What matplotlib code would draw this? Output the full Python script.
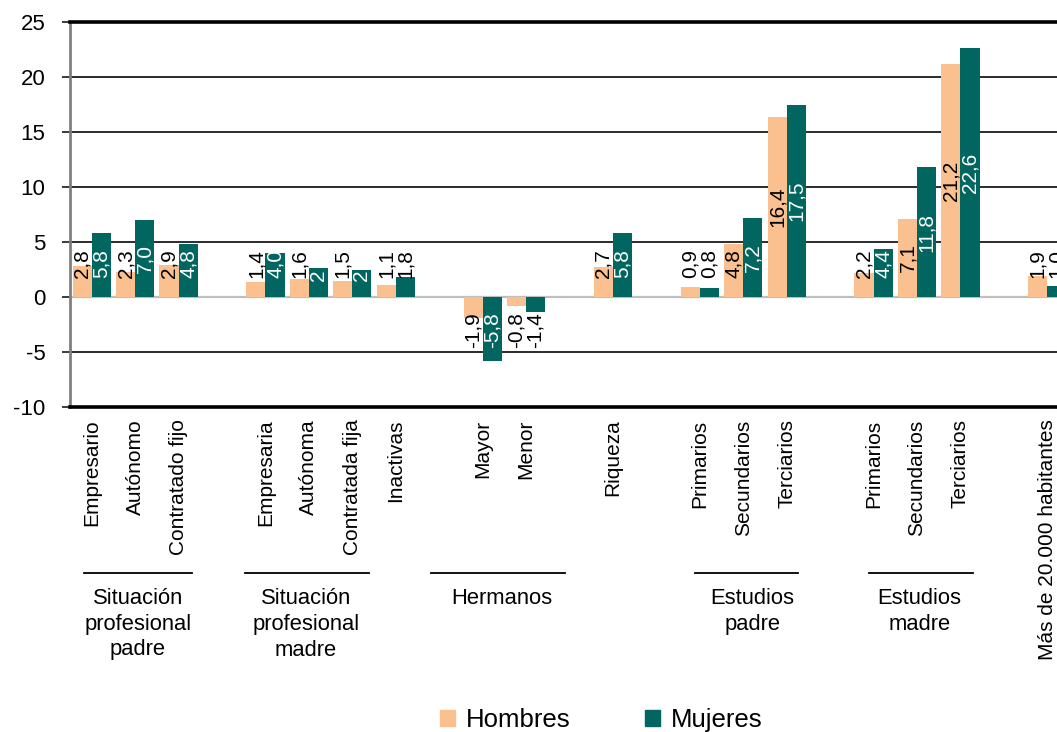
import matplotlib

matplotlib.use("Agg")
import matplotlib.pyplot as plt
from matplotlib.patches import Patch
from matplotlib.transforms import blended_transform_factory

plt.rcParams["font.family"] = ["Liberation Sans", "DejaVu Sans"]

# categories, each tagged with the group it belongs to
categories = [
    "Empresario", "Autónomo", "Contratado fijo",
    "Empresaria", "Autónoma", "Contratada fija", "Inactivas",
    "Mayor", "Menor",
    "Riqueza",
    "Primarios", "Secundarios", "Terciarios",
    "Primarios", "Secundarios", "Terciarios",
    "Más de 20.000 habitantes",
]
group_of = [0, 0, 0, 1, 1, 1, 1, 2, 2, 3, 4, 4, 4, 5, 5, 5, 6]

hombres = [2.8, 2.3, 2.9, 1.4, 1.6, 1.5, 1.1, -1.9, -0.8, 2.7,
           0.9, 4.8, 16.4, 2.2, 7.1, 21.2, 1.9]
mujeres = [5.8, 7.0, 4.8, 4.0, 2.6, 2.5, 1.8, -5.8, -1.4, 5.8,
           0.8, 7.2, 17.5, 4.4, 11.8, 22.6, 1.0]

hombres_labels = ["2,8", "2,3", "2,9", "1,4", "1,6", "1,5", "1,1", "-1,9", "-0,8", "2,7",
                  "0,9", "4,8", "16,4", "2,2", "7,1", "21,2", "1,9"]
mujeres_labels = ["5,8", "7,0", "4,8", "4,0", "2", "2", "1,8", "-5,8", "-1,4", "5,8",
                  "0,8", "7,2", "17,5", "4,4", "11,8", "22,6", "1,0"]

group_titles = {
    0: "Situación\nprofesional\npadre",
    1: "Situación\nprofesional\nmadre",
    2: "Hermanos",
    4: "Estudios\npadre",
    5: "Estudios\nmadre",
}

y_ticks = [-10, -5, 0, 5, 10, 15, 20, 25]

C_H = "#FAC090"
C_M = "#00665F"

# one empty slot between groups
pos = []
x = 0
prev = None
for g in group_of:
    if prev is not None and g != prev:
        x += 1
    pos.append(x)
    x += 1
    prev = g

W, H = 1057, 732
fig = plt.figure(figsize=(W / 100, H / 100), dpi=100)
ax_left, ax_top, ax_bottom = 70, 22, 407
ax_right = 1069
ax = fig.add_axes([ax_left / W, 1 - ax_bottom / H,
                   (ax_right - ax_left) / W, (ax_bottom - ax_top) / H])

bw = 0.44
xh = [p - bw / 2 for p in pos]
xm = [p + bw / 2 for p in pos]
ax.bar(xh, hombres, width=bw, color=C_H, zorder=3, label="Hombres")
ax.bar(xm, mujeres, width=bw, color=C_M, zorder=3, label="Mujeres")


def label_y(v, text):
    s = 1 if v >= 0 else -1
    y = s * max(abs(v) / 2, 3.0)
    if len(text) == 1:
        # truncated label: only its first character shows, low in the bar
        y -= 1.0
    return y


for xi, v, t in zip(xh, hombres, hombres_labels):
    ax.text(xi, label_y(v, t), t, rotation=90, ha="center", va="center",
            fontsize=15, color="black", zorder=4)
for xi, v, t in zip(xm, mujeres, mujeres_labels):
    col = "white" if abs(v) >= 2.5 else "black"
    ax.text(xi, label_y(v, t), t, rotation=90, ha="center", va="center",
            fontsize=15, color=col, zorder=4)

ax.set_xlim(-0.5, x - 0.5)
ax.set_ylim(-10, 25)
for yv in y_ticks[1:-1]:
    if yv == 0:
        ax.axhline(0, color="#BFBFBF", lw=1.6, zorder=2)
    else:
        ax.axhline(yv, color="#1a1a1a", lw=1.3, zorder=1)

ax.set_yticks(y_ticks)
ax.set_yticklabels([str(v) for v in y_ticks], fontsize=16)
ax.tick_params(axis="y", length=5.8, width=1.2, pad=12, color="#1a1a1a")

ax.set_xticks(pos)
ax.set_xticklabels(categories, rotation=90, fontsize=15, va="top")
ax.tick_params(axis="x", length=0, pad=9)

for side in ["top", "bottom"]:
    ax.spines[side].set_linewidth(2.6)
    ax.spines[side].set_color("black")
ax.spines["left"].set_linewidth(2)
ax.spines["left"].set_color("#808080")
ax.spines["right"].set_visible(False)

# group brackets under the tick labels
tr = blended_transform_factory(ax.transData, fig.transFigure)
brackets = {0: (-0.18, 2.32), 1: (3.52, 6.38), 2: (7.80, 10.89),
            4: (13.88, 16.27), 5: (17.9, 20.28)}
title_x = {0: 1.06, 1: 4.93, 2: 9.44, 4: 15.21, 5: 19.06}
line_y = 1 - 573 / H
for g, (x0, x1) in brackets.items():
    ax.plot([x0, x1], [line_y, line_y], transform=tr, color="black",
            lw=1.3, clip_on=False)
    for i, line in enumerate(group_titles[g].split("\n")):
        fig.text(title_x[g], 1 - (599 + 25.5 * i) / H, line, transform=tr,
                 ha="center", va="center", fontsize=15.8)

handles = [Patch(color=C_H, label="Hombres"), Patch(color=C_M, label="Mujeres")]
fig.legend(handles=handles, loc="center", bbox_to_anchor=(601 / W, 1 - 720 / H),
           ncol=2, frameon=False, fontsize=18.5, handlelength=0.6, handleheight=0.6,
           handletextpad=0.4, columnspacing=2.9, borderpad=0)

fig.savefig("out.png", dpi=100)
